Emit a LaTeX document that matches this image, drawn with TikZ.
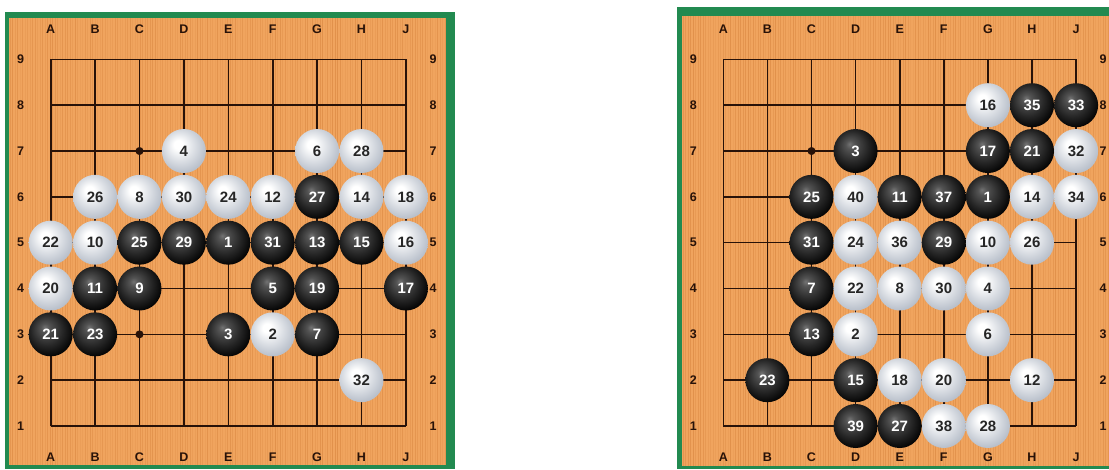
\documentclass[tikz,border=0pt]{standalone}
\usepackage{fontspec}
\setmainfont{Liberation Sans}
\definecolor{wood}{RGB}{240,164,94}
\definecolor{woodline}{RGB}{212,128,58}
\definecolor{frame}{RGB}{34,138,80}
\definecolor{gridline}{RGB}{40,18,8}
\definecolor{stonegrey}{RGB}{165,174,188}
\pgfdeclareradialshading{whiteball}{\pgfpoint{-7bp}{8bp}}{color(0bp)=(white); color(5bp)=(white); color(16bp)=(stonegrey!38); color(28bp)=(stonegrey!78); color(50bp)=(stonegrey)}
\pgfdeclareradialshading{blackball}{\pgfpoint{-7bp}{8bp}}{color(0bp)=(gray!90!black); color(5bp)=(gray!65!black); color(18bp)=(black!85); color(30bp)=(black); color(50bp)=(black)}
\begin{document}
\begin{tikzpicture}[x=1pt, y=-1pt,
  stone/.style={circle, minimum size=44pt, inner sep=0pt, shade, font=\fontsize{15}{15}\selectfont\bfseries},
  wstone/.style={stone, shading=whiteball, text=black!85},
  bstone/.style={stone, shading=blackball, text=white},
  boardlabel/.style={font=\fontsize{12.5}{12.5}\selectfont\bfseries, text=gridline, inner sep=0pt}]
  \useasboundingbox (0,0) rectangle (1109,469);
  % left board
  \fill[frame] (5,12) rectangle (455,469);
  \fill[wood] (9,18) rectangle (446,465);
  \pgfmathsetseed{11}
  \foreach \x in {10,12.5,...,445} {
    \pgfmathsetmacro\op{0.12+0.4*rnd}
    \draw[woodline, opacity=\op, line width=0.8pt] (\x,18) -- (\x,465);
  }
  \begin{scope}[shift={(6.3,471.83)}, x=44.4pt, y=45.83pt]
    \draw[gridline, line width=1.6pt, step=1] (1,1) grid (9,9);
    \foreach \c/\r in {3/3,3/7,7/3,7/7,5/5} \fill[gridline] (\c,\r) circle (4pt);
    \foreach \l [count=\i] in {A,B,C,D,E,F,G,H,J} {
      \node[boardlabel] (L-top-\l) at (\i,9.66) {\l};
      \node[boardlabel] (L-bot-\l) at (\i,0.32) {\l};
    }
    \foreach \r in {1,...,9} {
      \node[boardlabel] (L-left-\r) at (0.32,\r) {\r};
      \node[boardlabel] (L-right-\r) at (9.61,\r) {\r};
    }
    \foreach \c/\r/\n in {4/7/4,7/7/6,8/7/28,2/6/26,3/6/8,4/6/30,5/6/24,6/6/12,8/6/14,9/6/18,
      1/5/22,2/5/10,9/5/16,1/4/20,6/3/2,8/2/32}
      \node[wstone] (L-\c-\r) at (\c,\r) {\n};
    \foreach \c/\r/\n in {7/6/27,3/5/25,4/5/29,5/5/1,6/5/31,7/5/13,8/5/15,2/4/11,3/4/9,6/4/5,
      7/4/19,9/4/17,1/3/21,2/3/23,5/3/3,7/3/7}
      \node[bstone] (L-\c-\r) at (\c,\r) {\n};
  \end{scope}
  % right board
  \fill[frame] (677,7) rectangle (1109,469);
  \fill[wood] (682,16) rectangle (1109,466);
  \foreach \x in {683,685.5,...,1108} {
    \pgfmathsetmacro\op{0.12+0.4*rnd}
    \draw[woodline, opacity=\op, line width=0.8pt] (\x,16) -- (\x,466);
  }
  \begin{scope}[shift={(679.2,471.83)}, x=44.1pt, y=45.83pt]
    \draw[gridline, line width=1.6pt, step=1] (1,1) grid (9,9);
    \foreach \c/\r in {3/3,3/7,7/3,7/7,5/5} \fill[gridline] (\c,\r) circle (4pt);
    \foreach \l [count=\i] in {A,B,C,D,E,F,G,H,J} {
      \node[boardlabel] (R-top-\l) at (\i,9.66) {\l};
      \node[boardlabel] (R-bot-\l) at (\i,0.32) {\l};
    }
    \foreach \r in {1,...,9} {
      \node[boardlabel] (R-left-\r) at (0.32,\r) {\r};
      \node[boardlabel] (R-right-\r) at (9.61,\r) {\r};
    }
    \foreach \c/\r/\n in {7/8/16,9/7/32,4/6/40,8/6/14,9/6/34,4/5/24,5/5/36,7/5/10,8/5/26,4/4/22,
      5/4/8,6/4/30,7/4/4,4/3/2,7/3/6,5/2/18,6/2/20,8/2/12,6/1/38,7/1/28}
      \node[wstone] (R-\c-\r) at (\c,\r) {\n};
    \foreach \c/\r/\n in {8/8/35,9/8/33,4/7/3,7/7/17,8/7/21,3/6/25,5/6/11,6/6/37,7/6/1,3/5/31,
      6/5/29,3/4/7,3/3/13,2/2/23,4/2/15,4/1/39,5/1/27}
      \node[bstone] (R-\c-\r) at (\c,\r) {\n};
  \end{scope}
\end{tikzpicture}
\end{document}
